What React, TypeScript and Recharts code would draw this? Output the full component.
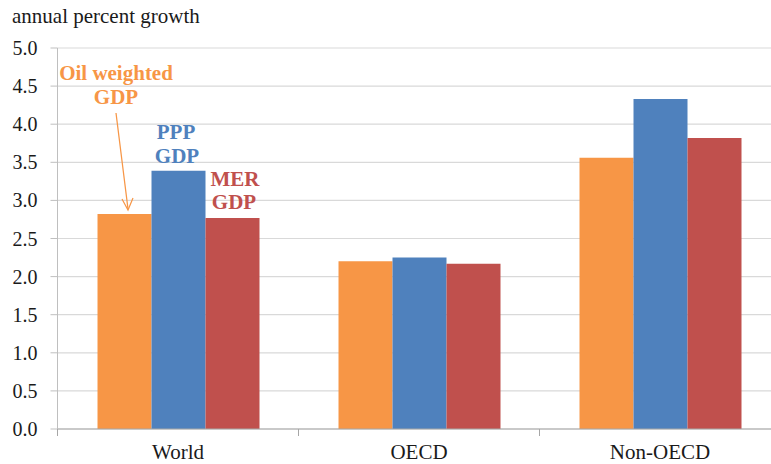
import React from 'react';
import { BarChart, Bar, XAxis, YAxis, CartesianGrid } from 'recharts';

const categories = ['World', 'OECD', 'Non-OECD'];
const oilWeighted = [2.82, 2.2, 3.56];
const ppp = [3.39, 2.25, 4.33];
const mer = [2.77, 2.17, 3.82];
const yTicks = [0, 0.5, 1, 1.5, 2, 2.5, 3, 3.5, 4, 4.5, 5];

const data = categories.map((c, i) => ({ name: c, oil: oilWeighted[i], ppp: ppp[i], mer: mer[i] }));

const SERIF = '"Liberation Serif", serif';
const serifStyle = { fontFamily: SERIF };

const XTick = (props: any) => {
  const { x, y, payload } = props;
  const off = payload && typeof payload.offset === 'number' ? payload.offset : 120.5;
  return (
    <g>
      <line x1={x - off} x2={x - off} y1={y} y2={y + 7} stroke="#a6a6a6" strokeWidth={1} />
      <text x={x} y={y + 30} textAnchor="middle" fontSize={21} fill="#1a1a1a" style={serifStyle}>
        {payload.value}
      </text>
    </g>
  );
};

const YTick = (props: any) => {
  const { x, y, payload } = props;
  return (
    <text x={x} y={y + 7} textAnchor="end" fontSize={20} fill="#1a1a1a" style={serifStyle}>
      {Number(payload.value).toFixed(1)}
    </text>
  );
};

export default function App() {
  return (
    <div style={{ position: 'absolute', left: 0, top: 0, width: 771, height: 464, overflow: 'hidden', background: '#fff' }}>
      <BarChart
        width={790}
        height={464}
        data={data}
        margin={{ top: 48, right: 9.5, bottom: 0, left: 0 }}
        barCategoryGap="16.6%"
        barGap={0}
      >
        <CartesianGrid vertical={false} stroke="#d9d9d9" strokeWidth={1.2} />
        <XAxis
          dataKey="name"
          tick={<XTick />}
          tickLine={false}
          tickSize={0}
          tickMargin={0}
          axisLine={{ stroke: '#a6a6a6' }}
          interval={0}
          height={35}
        />
        <YAxis
          width={57.5}
          domain={[0, 5]}
          ticks={yTicks}
          axisLine={{ stroke: '#bfbfbf' }}
          tickLine={{ stroke: '#bfbfbf' }}
          tickSize={7}
          tickMargin={13}
          tick={<YTick />}
        />
        <Bar dataKey="oil" fill="#F79646" isAnimationActive={false} />
        <Bar dataKey="ppp" fill="#4F81BD" isAnimationActive={false} />
        <Bar dataKey="mer" fill="#C0504D" isAnimationActive={false} />
      </BarChart>
      <svg width={771} height={464} style={{ position: 'absolute', left: 0, top: 0, pointerEvents: 'none' }}>
        <text x={12} y={23} fontSize={21} fill="#1a1a1a" style={serifStyle}>annual percent growth</text>
        <g fontSize={21} fontWeight="bold" textAnchor="middle">
          <text x={116} y={80} fill="#F79646" style={serifStyle}>Oil weighted</text>
          <text x={116} y={104} fill="#F79646" style={serifStyle}>GDP</text>
          <text x={176} y={139} fill="#4F81BD" style={serifStyle}>PPP</text>
          <text x={177} y={163} fill="#4F81BD" style={serifStyle}>GDP</text>
          <text x={235} y={186} fill="#C0504D" style={serifStyle}>MER</text>
          <text x={234} y={209} fill="#C0504D" style={serifStyle}>GDP</text>
        </g>
        <line x1={116} y1={113} x2={128} y2={209} stroke="#F79646" strokeWidth={1.2} />
        <polyline points="122,199 128,210 133,198" fill="none" stroke="#F79646" strokeWidth={1.2} />
      </svg>
    </div>
  );
}
